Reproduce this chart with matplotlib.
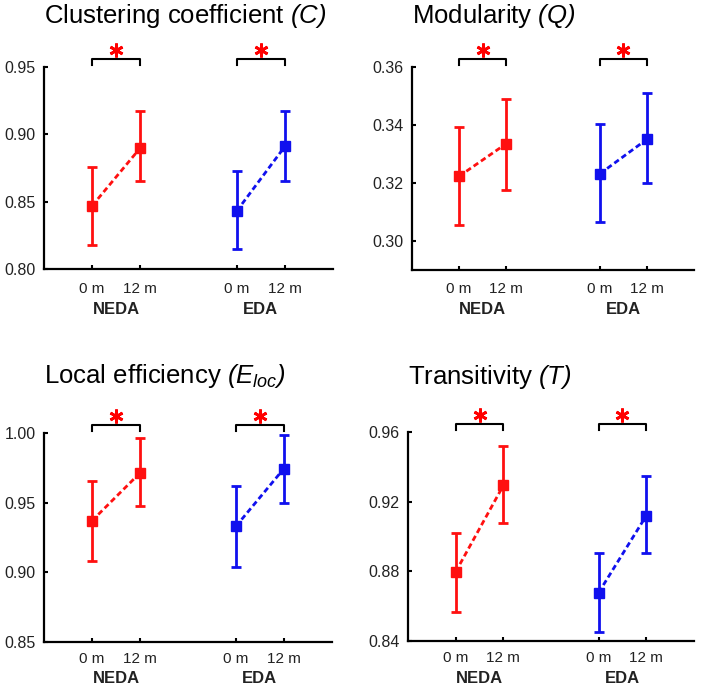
import matplotlib.pyplot as plt
import matplotlib.transforms as mtransforms

plt.rcParams['font.family'] = ['Liberation Sans', 'DejaVu Sans']
plt.rcParams['mathtext.fontset'] = 'custom'
plt.rcParams['mathtext.it'] = 'Liberation Sans:italic'
plt.rcParams['mathtext.rm'] = 'Liberation Sans:italic'

# positions of 0 m / 12 m inside each group
x_pos = [1, 2, 4, 5]
tick_labels = ['0 m', '12 m', '0 m', '12 m']
groups = ['NEDA', 'EDA']

titles = ['Clustering coefficient $(C)$', 'Modularity $(Q)$',
          'Local efficiency $(E_{loc})$', 'Transitivity $(T)$']

# means and error bar ends: [NEDA 0m, NEDA 12m, EDA 0m, EDA 12m]
clust_mean = [0.847, 0.890, 0.843, 0.891]
clust_hi = [0.876, 0.917, 0.873, 0.917]
clust_lo = [0.818, 0.865, 0.815, 0.865]

mod_mean = [0.3223, 0.3335, 0.3232, 0.3351]
mod_hi = [0.3394, 0.3488, 0.3402, 0.3509]
mod_lo = [0.3054, 0.3175, 0.3065, 0.3199]

eloc_mean = [0.937, 0.9713, 0.933, 0.9744]
eloc_hi = [0.9656, 0.9964, 0.9617, 0.9988]
eloc_lo = [0.9081, 0.9474, 0.9038, 0.9498]

trans_mean = [0.8797, 0.9293, 0.8678, 0.912]
trans_hi = [0.9022, 0.9517, 0.8905, 0.935]
trans_lo = [0.8567, 0.9076, 0.845, 0.8903]

ylims = [(0.80, 0.95), (0.29, 0.36), (0.85, 1.00), (0.84, 0.96)]
yticks = [[0.80, 0.85, 0.90, 0.95], [0.30, 0.32, 0.34, 0.36],
          [0.85, 0.90, 0.95, 1.00], [0.84, 0.88, 0.92, 0.96]]

panels = [(clust_mean, clust_hi, clust_lo), (mod_mean, mod_hi, mod_lo),
          (eloc_mean, eloc_hi, eloc_lo), (trans_mean, trans_hi, trans_lo)]

# axes rectangles in figure fractions
rects = [[0.0627, 0.609, 0.4117, 0.2936],
         [0.5869, 0.6076, 0.4017, 0.295],
         [0.0627, 0.0669, 0.410, 0.3038],
         [0.5812, 0.0683, 0.4074, 0.3038]]
# title baselines (pixels from top), label offsets per row
title_base = [23, 23, 383, 384]
xpad = [9, 9, 7, 7]
group_off = [40, 40, 37, 37]

red = '#ff1010'
blue = '#1010ee'
colors = [red, blue]

fig = plt.figure(figsize=(7.02, 6.88), dpi=100)

for i in range(4):
    ax = fig.add_axes(rects[i])
    mean, hi, lo = panels[i]
    for g in range(2):
        xs = x_pos[2 * g:2 * g + 2]
        m = mean[2 * g:2 * g + 2]
        err = [[m[k] - lo[2 * g + k] for k in range(2)],
               [hi[2 * g + k] - m[k] for k in range(2)]]
        ax.plot(xs, m, linestyle=(0, (2, 1.2)), color=colors[g], lw=2)
        ax.errorbar(xs, m, yerr=err, fmt='s', color=colors[g], ms=7,
                    elinewidth=2, capsize=3.5, capthick=2)

    ax.set_xlim(0, 6)
    ax.set_ylim(ylims[i])
    ax.set_yticks(yticks[i])
    ax.set_yticklabels(['%.2f' % v for v in yticks[i]])
    ax.set_xticks(x_pos)
    ax.set_xticklabels(tick_labels)
    ax.tick_params(direction='in', length=3, width=1.5, labelcolor='#222222')
    ax.tick_params(axis='y', labelsize=11.5, pad=6)
    ax.tick_params(axis='x', labelsize=11, pad=xpad[i])
    ax.spines['top'].set_visible(False)
    ax.spines['right'].set_visible(False)
    for s in ['left', 'bottom']:
        ax.spines[s].set_linewidth(1.6)

    trans = mtransforms.blended_transform_factory(ax.transData, ax.transAxes)
    h = rects[i][3] * 688

    # group labels
    for g in range(2):
        ax.text((x_pos[2 * g] + x_pos[2 * g + 1]) / 2, -group_off[i] / h, groups[g],
                transform=trans, ha='center', va='center', fontsize=12,
                fontweight='bold', color='#222222')

    # significance brackets
    y_top = 1 + 8 / h
    y_leg = 1 + 2 / h
    for g in range(2):
        x0, x1 = x_pos[2 * g], x_pos[2 * g + 1]
        ax.plot([x0, x0, x1, x1], [y_leg, y_top, y_top, y_leg], color='black',
                lw=1.5, transform=trans, clip_on=False)
        ax.plot([(x0 + x1) / 2], [1 + 17 / h], marker=(6, 2, 0), ms=10,
                mew=2.0, color='red', transform=trans, clip_on=False)

    fig.text(rects[i][0], 1 - title_base[i] / 688, titles[i], fontsize=18.5,
             ha='left', va='baseline')

fig.savefig('out.png', dpi=100)
